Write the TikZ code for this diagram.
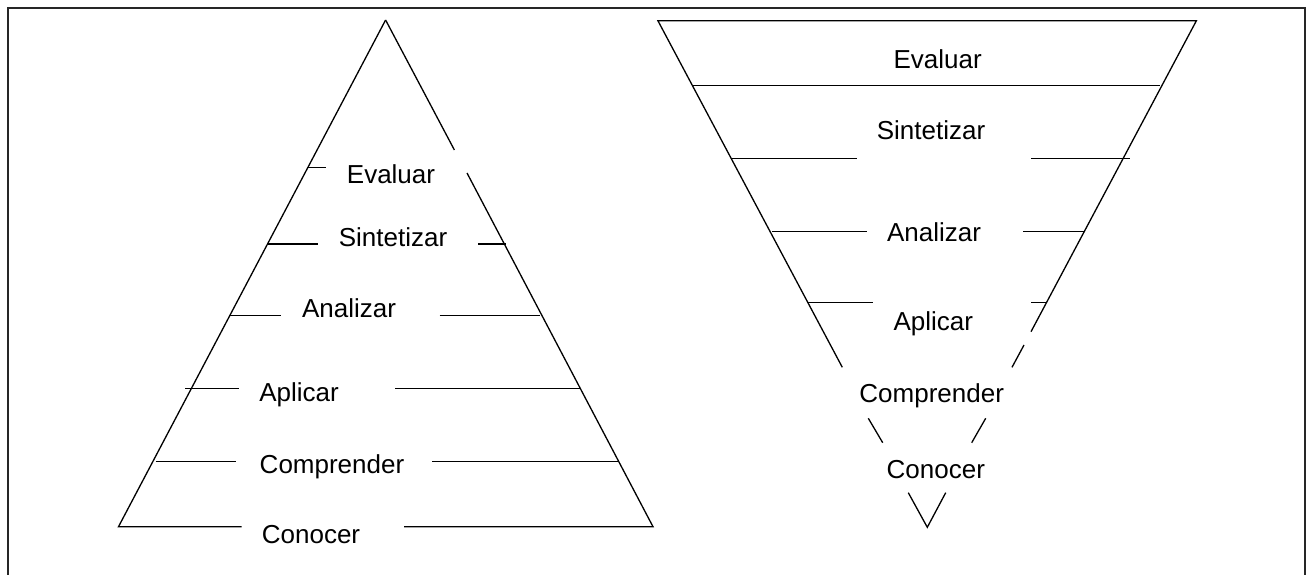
\documentclass[tikz,border=0pt]{standalone}
\usepackage{fontspec}
\setmainfont{Liberation Sans}
\usepackage{tikz}
\usetikzlibrary{positioning}
\tikzstyle{lvl}=[font=\fontsize{26}{30}\selectfont, anchor=base, inner sep=0pt]
\tikzstyle{edge}=[line width=1.3pt]
\tikzstyle{frame}=[line width=2.2pt, black!85]

\begin{document}
\begin{tikzpicture}[x=1pt, y=-1pt]
                    \useasboundingbox (0,0) rectangle (1307,575);
                    \draw[frame] (8,577) -- (8,8) -- (1305,8) -- (1305,577);
                    % piramide
                    \node [lvl] (ev1) at (391,183.3) {Evaluar};
                    \node [lvl] (si1) at (393,246) {Sintetizar};
                    \node [lvl] (an1) at (349,317.7) {Analizar};
                    \node [lvl] (ap1) at (299,401.7) {Aplicar};
                    \node [lvl] (co1) at (332,473.3) {Comprender};
                    \node [lvl] (cn1) at (311,543.3) {Conocer};
                    \coordinate (top1) at (385.6,20);
                    \draw[edge] (top1) -- (118.5,526.7) -- (241.7,526.7);
                    \draw[edge] (404,526.7) -- (653,526.7) -- (467,173);
                    \draw[edge] (454.4,150) -- (top1);
                    \draw[edge] (307,167.7) -- (325.7,167.7);
                    \draw[edge] (267,244) -- (318,244);
                    \draw[edge] (478,244) -- (506,244);
                    \draw[edge] (230,315.7) -- (281,315.7);
                    \draw[edge] (439.6,315.7) -- (540,315.7);
                    \draw[edge] (185,388.7) -- (238.7,388.7);
                    \draw[edge] (395,388.7) -- (580.5,388.7);
                    \draw[edge] (155.5,461.7) -- (235.8,461.7);
                    \draw[edge] (432,461.7) -- (619,461.7);
                    % embudo
                    \node [lvl] (ev2) at (937.6,68.3) {Evaluar};
                    \node [lvl] (si2) at (931,140) {Sintetizar};
                    \node [lvl] (an2) at (934,241.3) {Analizar};
                    \node [lvl] (ap2) at (933.3,330.7) {Aplicar};
                    \node [lvl] (co2) at (931.7,402.3) {Comprender};
                    \node [lvl] (cn2) at (935.8,478.3) {Conocer};
                    \coordinate (tip2) at (927.3,527.3);
                    \draw[edge] (842.3,367.3) -- (657.9,20.7) -- (1196.4,20.7) -- (1031,331.7);
                    \draw[edge] (1024,345) -- (1012,367.3);
                    \draw[edge] (868.3,418.3) -- (882.7,442.7);
                    \draw[edge] (985.7,418.3) -- (971.7,442.7);
                    \draw[edge] (908.3,492.7) -- (tip2) -- (945.7,492.7);
                    \draw[edge] (691.8,85.7) -- (1160,85.7);
                    \draw[edge] (731.4,158.5) -- (857,158.5);
                    \draw[edge] (1031,158.5) -- (1130,158.5);
                    \draw[edge] (772,231.2) -- (866.8,231.2);
                    \draw[edge] (1023,231.2) -- (1084,231.2);
                    \draw[edge] (807.3,302.7) -- (872.7,302.7);
                    \draw[edge] (1031,302.7) -- (1046.7,302.7);
                \end{tikzpicture}
\end{document}
